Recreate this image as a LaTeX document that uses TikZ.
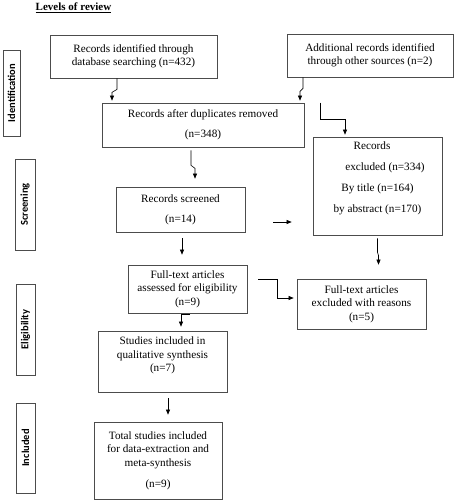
\documentclass[tikz,border=0pt]{standalone}
\usepackage{fontspec}
\setmainfont{Liberation Serif}
\newfontfamily\stagefont{Carlito}
\usetikzlibrary{arrows.meta}

\begin{document}
\begin{tikzpicture}[x=1pt,y=-1pt,
		box/.style={draw=black!70, line width=0.7pt, align=center, inner sep=1pt,
			font=\fontsize{11.2}{13.5}\selectfont},
		stage/.style={draw=black!70, line width=0.7pt, rotate=90, inner sep=0pt,
			font=\stagefont\bfseries\fontsize{10.5}{12}\selectfont},
		arr/.style={-{Triangle[length=5pt,width=4pt]}, line width=0.6pt}]
				\useasboundingbox (0,0) rectangle (455,500);
				\node[font=\bfseries\fontsize{11}{13}\selectfont] (title) at (73.5,8) {\underline{Levels of review}};
				\node[stage, minimum width=86pt, minimum height=17pt] (sid) at (11.5,93) {Identification};
				\node[stage, minimum width=91pt, minimum height=20pt] (sscr) at (25,204.5) {Screening};
				\node[stage, minimum width=91pt, minimum height=19pt] (selig) at (25.5,329.5) {Eligibility};
				\node[stage, minimum width=90pt, minimum height=19pt] (sinc) at (25.5,448) {Included};
				\node[box, minimum width=167pt, minimum height=43pt] (rid) at (133.5,56.5) {Records identified through\\database searching (n=432)};
				\node[box, minimum width=166pt, minimum height=43pt] (radd) at (370,55.5) {Additional records identified\\through other sources (n=2)};
				\node[box, minimum width=202pt, minimum height=44pt] (rdup) at (203,125) {Records after duplicates removed\\[6.5pt](n=348)};
				\node[box, minimum width=129pt, minimum height=98pt, text depth=17pt] (rexcl) at (377.5,186) {Records\hspace*{11pt}\\[7.5pt]\hspace*{15pt}excluded (n=334)\\[7.5pt]By title (n=164)\\[7.5pt]by abstract (n=170)};
				\node[box, minimum width=129pt, minimum height=45pt] (rscr) at (180.5,209.5) {Records screened\\[6.5pt](n=14)};
				\node[box, minimum width=119pt, minimum height=48pt] (ftass) at (187.5,289) {Full-text articles\\assessed for eligibility\\(n=9)};
				\node[box, minimum width=129pt, minimum height=50pt] (ftexc) at (361.5,304) {Full-text articles\\excluded with reasons\\(n=5)};
				\node[box, minimum width=129pt, minimum height=61pt, text depth=14pt] (studies) at (162.5,361.5) {Studies included in\\qualitative synthesis\\(n=7)};
				\node[box, minimum width=128pt, minimum height=77pt] (total) at (158,460.5) {Total studies included\\for data-extraction and\\meta-synthesis\\[7.5pt](n=9)};
				\draw[arr, shorten >=2pt] ([xshift=-16.5pt]rid.south) -- ++(0,11) -- ++(-5,3) -- ([xshift=-91pt]rdup.north);
				\draw[arr, shorten >=2pt] ([xshift=-67pt]radd.south) -- ++(0,11) -- ++(-3,3) -- ([xshift=97pt]rdup.north);
				\draw[arr, shorten >=2pt] ([xshift=16pt]rdup.north east) -- ++(0,17) -| ([xshift=-32.5pt]rexcl.north);
				\draw[arr, shorten >=8pt] ([xshift=-12pt,yshift=-3pt]rdup.south) -- ++(0,15) -- ++(4,3) -- ([xshift=14.5pt]rscr.north);
				\draw[arr, shorten <=6pt, shorten >=10pt] ([xshift=1.5pt]rscr.south) -- ([xshift=-5.5pt]ftass.north);
				\draw[arr, shorten <=28pt, shorten >=21pt] ([yshift=-12.5pt]rscr.east) -- ([yshift=-36pt]rexcl.west);
				\draw[arr, shorten >=14pt] ([yshift=-3pt]rexcl.south) -- ++(0,14) -- ++(1,3) -- ([xshift=17pt]ftexc.north);
				\draw[arr, shorten >=3pt] ([xshift=11pt,yshift=10pt]ftass.east) -- ++(19,0) |- ([yshift=6pt]ftexc.west);
				\draw[arr, shorten >=4pt] ([xshift=2.5pt,yshift=-1pt]ftass.south) -- ++(-9,0) -- ([xshift=18.5pt]studies.north);
				\draw[arr, shorten <=6pt, shorten >=7pt] ([xshift=5.5pt]studies.south) -- ([xshift=10pt]total.north);
			\end{tikzpicture}
\end{document}
